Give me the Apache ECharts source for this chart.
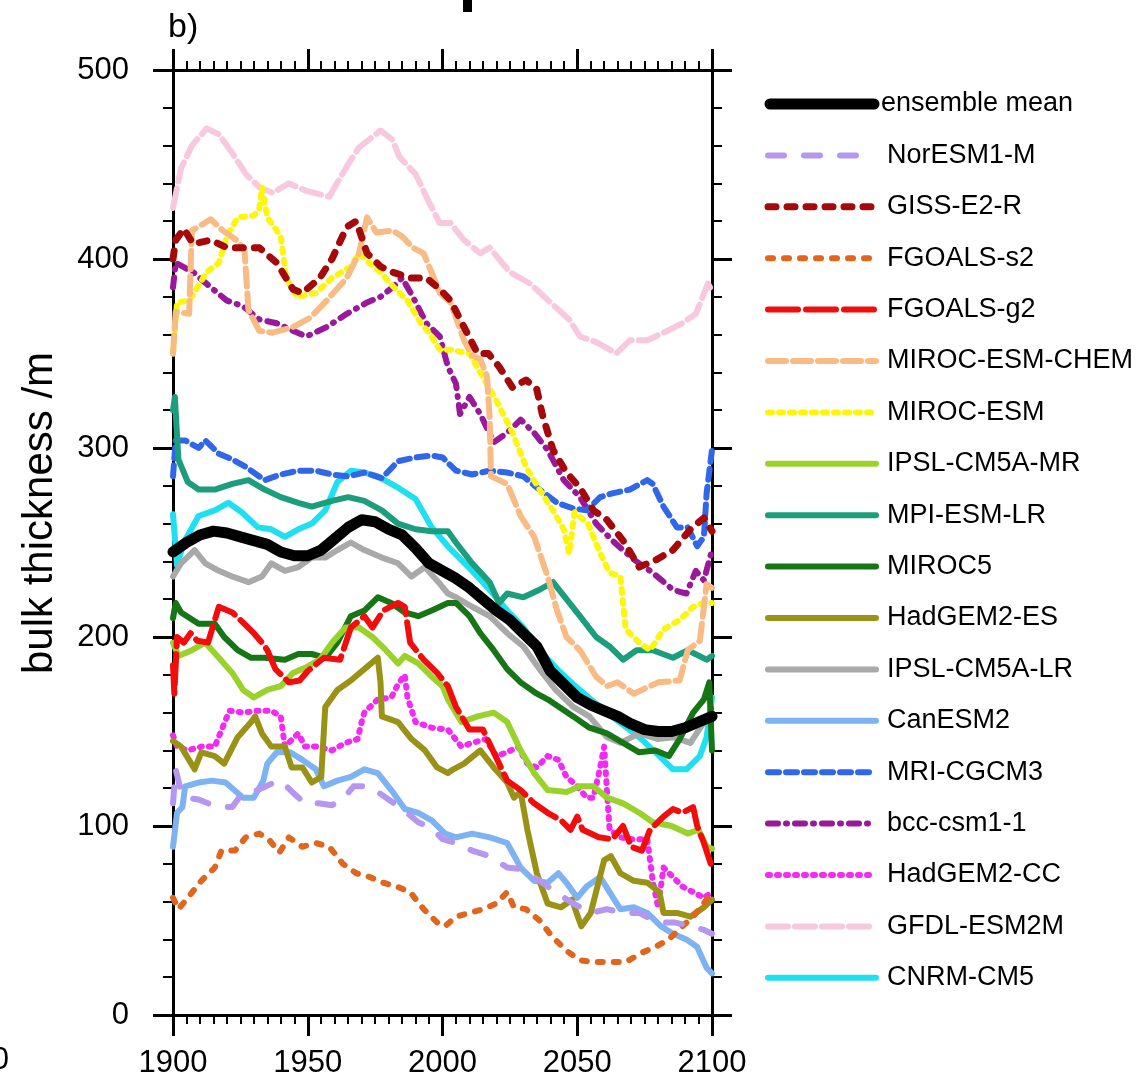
<!DOCTYPE html>
<html>
<head>
<meta charset="utf-8">
<script src="https://cdn.jsdelivr.net/npm/echarts@6/dist/echarts.min.js"></script>
<style>
  html, body { margin: 0; padding: 0; background: #ffffff; }
  #chart { width: 1142px; height: 1087px; }
</style>
</head>
<body>
<div id="chart"></div>
<script>
// Bulk thickness (m) per model, [year, value] pairs, 1900-2100
const ensembleMean = [[1900,245],[1905,250],[1910,254],[1915,256],[1920,255],[1925,253],[1930,251],[1935,249],[1940,245],[1945,243],[1950,243],[1955,246],[1960,252],[1965,258],[1970,262],[1975,261],[1980,257],[1985,254],[1990,247],[1995,239],[2000,235],[2005,231],[2010,226],[2015,220],[2020,214],[2025,209],[2030,202],[2035,195],[2040,182],[2045,175],[2050,168],[2055,164],[2060,161],[2065,158],[2070,154],[2075,151],[2080,150],[2085,150],[2090,152],[2095,155],[2100,158]];

const norESM1M = [[1900,112],[1901,130],[1903,118],[1905,115],[1909.5,114],[1913,112],[1918,110],[1922,110],[1925.5,117],[1931.5,119],[1937.5,123],[1940,124],[1945,117],[1949,112],[1954,112],[1959,111],[1963.5,115],[1967,121],[1972,121],[1977,117],[1982,112],[1986,108],[1991,102],[1996,99],[2000,93],[2005,91],[2011,87],[2017.5,84],[2024,78],[2030,77],[2036,71],[2042,65],[2048.5,59],[2055,54],[2061,56],[2067,54],[2073,54],[2080,49],[2086,49],[2092,47],[2097,45],[2100,43]];

const gissE2R = [[1900,400],[1901,410],[1904,416],[1907.5,408],[1914,410],[1920,406],[1926,406],[1932,406],[1938.5,398],[1944.5,384],[1948,382],[1954.5,390],[1959,400],[1964.5,417],[1968,420],[1972,403],[1977,396],[1981.5,393],[1988,390],[1994,390],[1999,384],[2003,378],[2008,364],[2013,350],[2017,350],[2021,343],[2026,332],[2031,336],[2035,331],[2037,318],[2041,299],[2046,287],[2051,279],[2056,267],[2061,262],[2067,251],[2073,237],[2079.5,241],[2085.5,246],[2092,257],[2097,263],[2100,256]];

const fgoalsS2 = [[1900,62],[1902,56],[1905.5,62],[1910.5,71],[1915.5,78],[1918,87],[1923,87],[1927,94],[1932,96],[1935.5,93],[1939.5,86],[1943,94],[1948,89],[1953,91],[1958,89],[1963,80],[1968,75],[1973,73],[1978,70],[1983,68],[1988,65],[1993,56],[1998,49],[2001,47],[2005,52],[2010,54],[2015,56],[2020,59],[2024,65],[2026.5,57],[2031,56],[2036,50],[2041,41],[2046,34],[2051,29],[2056,28],[2062,28],[2068,28],[2074,33],[2079,36],[2084,40],[2089,47],[2093,52],[2098,61],[2100,66]];

const fgoalsG2 = [[1900,185],[1900.5,170],[1901.5,200],[1904,197],[1906.5,202],[1909,198],[1913,197],[1917,216],[1922,213],[1926.5,207],[1930,202],[1933,197],[1935,193],[1938,183],[1943,176],[1947,177],[1950,182],[1956,189],[1962,188],[1966,205],[1971,211],[1974,205],[1978,214],[1983.5,218],[1986,216],[1988,197],[1993,188],[1998,181],[2002,174],[2005,163],[2010,151],[2015,151],[2019,139],[2024,124],[2029,119],[2034,112],[2039,107],[2044,103],[2047.5,98],[2050,105],[2052,98],[2058,94],[2063,93],[2067,100],[2070,89],[2074,87],[2077,98],[2082,105],[2085.5,109],[2089,107],[2093,110],[2094.5,100],[2097,91],[2100,78]];

const mirocEsmChem = [[1900,350],[1901,372],[1906,371],[1907,415],[1914,421],[1918.5,415],[1923.5,410],[1926.5,405],[1928,373],[1932,362],[1937,361],[1944.5,364],[1951,369],[1957,378],[1964.5,390],[1969,403],[1972,422],[1975.5,414],[1981.5,415],[1985,412],[1989,406],[1993,403],[1996.5,391],[1999,382],[2003,377],[2008,357],[2011,349],[2014,347],[2016.5,338],[2017.5,316],[2018,285],[2021,283],[2024,281],[2029,264],[2034,253],[2039,232],[2042.5,214],[2046,200],[2051,193],[2057,179],[2061,174],[2065,176],[2071,170],[2080,176],[2088,177],[2091,193],[2095.5,198],[2098,228],[2100,226]];

const mirocEsm = [[1900,350],[1901.5,377],[1906,378],[1912.5,393],[1917,398],[1920,412],[1924,422],[1930,423],[1932,426],[1933,438],[1935,422],[1940,412],[1942,390],[1946,380],[1953,382],[1959,390],[1966,396],[1969,403],[1972,399],[1977,393],[1982,385],[1987,378],[1992,366],[1995,361],[1999,352],[2003,352],[2010,350],[2014,340],[2020,325],[2026,308],[2031,290],[2036,278],[2041,267],[2045,257],[2047,244],[2049,266],[2054,260],[2058,246],[2062,234],[2066,232],[2068,204],[2073,197],[2077,193],[2082,204],[2088,209],[2093,216],[2097,218],[2100,218]];

const ipslCm5aMr = [[1900,197],[1902,190],[1907,193],[1912,197],[1917,189],[1922,181],[1926,172],[1930,168],[1935,172],[1940,174],[1944.5,181],[1949.5,184],[1954.5,188],[1959,197],[1964,205],[1969,205],[1974,200],[1979,193],[1983.5,186],[1986,190],[1991,186],[1996,179],[2000,174],[2002,167],[2007,155],[2013,158],[2019,160],[2024,155],[2029,140],[2034,128],[2039,119],[2046,118],[2051,121],[2056,121],[2061,115],[2067,112],[2073,107],[2078,102],[2085,100],[2091,96],[2095,98],[2098,89],[2100,88]];

const mpiEsmLr = [[1900,320],[1900.7,327],[1902,294],[1905.5,282],[1909.5,278],[1915.5,278],[1922,281],[1928,283],[1934,278],[1940,274],[1946.5,271],[1951.5,269],[1959,272],[1965,274],[1971,272],[1977.5,267],[1983.5,260],[1990,257],[1996,256],[2002,256],[2005,250],[2011,239],[2017.5,229],[2021,218],[2024,223],[2030,221],[2036,225],[2041,229],[2046,220],[2051,211],[2057,200],[2062,195],[2067,188],[2072,193],[2078,193],[2085.5,189],[2091,193],[2098,188],[2100,190]];

const miroc5 = [[1900,210],[1901,218],[1903,213],[1909.5,207],[1915.5,207],[1919,200],[1924,193],[1929,189],[1934,189],[1941.5,188],[1946.5,191],[1951.5,191],[1956.5,189],[1961,197],[1966,211],[1971,214],[1976,221],[1981,218],[1986,213],[1991,211],[1996,214],[2002,218],[2005,218],[2010,211],[2014,202],[2019,193],[2024,183],[2029,176],[2035,170],[2039,167],[2048.5,158],[2054.5,152],[2061,149],[2067,144],[2073,139],[2079,140],[2084,137],[2088,146],[2093,160],[2097,167],[2099,176],[2100,140]];

const hadGem2Es = [[1900,145],[1903,142],[1908,130],[1910.5,139],[1915.5,137],[1919,133],[1924,147],[1929,155],[1930.5,158],[1933,149],[1936.5,142],[1941.5,142],[1944,131],[1948,131],[1951.5,123],[1955,126],[1956.5,163],[1961,172],[1966,177],[1971,183],[1976,189],[1977,176],[1977.5,158],[1983.5,155],[1988.5,146],[1993.5,140],[1998,131],[2002,128],[2004,130],[2008,133],[2014,140],[2019,131],[2024,123],[2026.5,115],[2029,118],[2031.5,98],[2035,75],[2039,59],[2044,57],[2048,61],[2051.5,47],[2055,54],[2060,82],[2062.5,84],[2066,75],[2071,71],[2076,70],[2080.5,65],[2082,54],[2087,54],[2092,52],[2097,57],[2100,61]];

const ipslCm5aLr = [[1900,232],[1903,239],[1908,246],[1912,239],[1917,235],[1922,232],[1928,229],[1933,232],[1936.5,239],[1941.5,235],[1946.5,237],[1951.5,242],[1956.5,242],[1961,246],[1966,250],[1971,246],[1977.5,242],[1983.5,239],[1988.5,232],[1993.5,237],[1998.5,229],[2002,223],[2005,221],[2011,216],[2017.5,211],[2024,202],[2030,195],[2036,183],[2042,172],[2048.5,163],[2054.5,158],[2061,147],[2066,144],[2073,149],[2080,146],[2085.5,147],[2092,144],[2097,155],[2100,160]];

const canEsm2 = [[1900,89],[1901.5,107],[1903.5,110],[1904.5,121],[1909.5,123],[1914.5,124],[1919.5,123],[1926,115],[1930,115],[1933.5,124],[1935,133],[1938.5,139],[1943.5,139],[1948,135],[1953,130],[1956,121],[1961,124],[1966,126],[1971,130],[1976,128],[1981,119],[1986,109],[1991,107],[1996,103],[2001,96],[2005,94],[2011,96],[2017.5,94],[2024,91],[2029,78],[2034,71],[2039,70],[2043,75],[2046,70],[2050,62],[2053.5,68],[2058.5,73],[2062,65],[2066,56],[2071,57],[2076,54],[2081,47],[2085.5,43],[2090.5,40],[2094.5,36],[2098,25],[2100,22]];

const mriCgcm3 = [[1900,285],[1901,304],[1904.5,304],[1909.5,300],[1912,304],[1917,297],[1922,294],[1927,290],[1934,283],[1940,286],[1946.5,288],[1953,288],[1959,286],[1965,285],[1971,287],[1977.5,284],[1983.5,293],[1990,295],[1996,296],[2000,295],[2005,288],[2011,286],[2017.5,288],[2024,287],[2030,285],[2036,278],[2042.5,271],[2048.5,268],[2053.5,267],[2058.5,274],[2063,276],[2069.5,278],[2076,283],[2078,281],[2082,269],[2087,258],[2091,258],[2094.5,248],[2097,253],[2098,276],[2100,299]];

const bccCsm11 = [[1900,385],[1901,398],[1907.5,393],[1914,385],[1920,378],[1926,375],[1932,368],[1938.5,366],[1944.5,362],[1949.5,359],[1957,364],[1964.5,371],[1972,377],[1977,380],[1981.5,385],[1985,390],[1989,380],[1994,366],[1999,359],[2002,343],[2005,334],[2006.5,318],[2010,327],[2014,318],[2019,303],[2024,308],[2029,315],[2034,308],[2039,299],[2045,283],[2051,274],[2057,260],[2063,251],[2071,241],[2078,234],[2085.5,225],[2090.5,223],[2094,235],[2097,230],[2100,246]];

const hadGem2Cc = [[1900,148],[1901.5,142],[1905.5,140],[1910.5,142],[1915.5,142],[1919.5,156],[1921,161],[1926,160],[1931,161],[1936.5,161],[1940,158],[1941.5,142],[1946.5,149],[1949,142],[1954,142],[1959,140],[1964,144],[1968.5,146],[1970,155],[1971,160],[1976,167],[1981,168],[1983.5,175],[1986,180],[1987,168],[1990,155],[1996,152],[2002,151],[2007,142],[2011,144],[2016,146],[2020,137],[2024,139],[2028,142],[2031.5,133],[2035,131],[2039,137],[2043,135],[2046,126],[2050,121],[2053.5,115],[2056,115],[2058.5,131],[2060,142],[2061,119],[2062,98],[2066,94],[2070,93],[2076,93],[2078,71],[2080,57],[2082,78],[2085.5,73],[2089,68],[2093,65],[2097,62],[2100,65]];

const gfdlEsm2m = [[1900,427],[1903,448],[1907,460],[1912.5,469],[1917,466],[1922,456],[1927,445],[1932,438],[1937,435],[1943,440],[1949.5,436],[1958,433],[1964.5,449],[1969,459],[1977,468],[1981.5,463],[1984,454],[1990,445],[1995,430],[1999,419],[2003,419],[2008,410],[2014,403],[2017.5,406],[2025,393],[2032.5,387],[2040,377],[2047,368],[2051,359],[2057,356],[2064.5,350],[2069.5,357],[2076,357],[2082,361],[2089,366],[2094,371],[2098.5,387],[2100,383]];

const cnrmCm5 = [[1900,265],[1901.5,238],[1904,250],[1909.5,264],[1915.5,267],[1920.5,271],[1925.5,266],[1931.5,258],[1936.5,257],[1941.5,253],[1946.5,257],[1951.5,260],[1956.5,267],[1961,282],[1966,288],[1971,287],[1976,285],[1983.5,279],[1990,273],[1996,258],[2002,248],[2011,235],[2017.5,225],[2024,214],[2030,205],[2036,193],[2042.5,183],[2048.5,175],[2055,167],[2061,160],[2073,147],[2080.5,137],[2085.5,130],[2090.5,130],[2095.5,137],[2098,147],[2100,168]];

// Axis ticks
const xTicks = [1900, 1950, 2000, 2050, 2100];
const yTicks = [0, 100, 200, 300, 400, 500];

// Line styles in legend order (first entry drawn on top)
const models = [
  { name: 'ensemble mean',  data: ensembleMean, color: '#000000', width: 11, dash: 'solid' },
  { name: 'NorESM1-M',      data: norESM1M,     color: '#b596f0', width: 6,  dash: [16, 20] },
  { name: 'GISS-E2-R',      data: gissE2R,      color: '#a50a0a', width: 7,  dash: [8, 11] },
  { name: 'FGOALS-s2',      data: fgoalsS2,     color: '#e0661e', width: 6,  dash: [5, 11] },
  { name: 'FGOALS-g2',      data: fgoalsG2,     color: '#f20c0c', width: 6,  dash: [30, 8] },
  { name: 'MIROC-ESM-CHEM', data: mirocEsmChem, color: '#f8bb84', width: 6,  dash: [18, 7] },
  { name: 'MIROC-ESM',      data: mirocEsm,     color: '#fcf50c', width: 6,  dash: [4, 7] },
  { name: 'IPSL-CM5A-MR',   data: ipslCm5aMr,   color: '#99d22a', width: 6,  dash: 'solid' },
  { name: 'MPI-ESM-LR',     data: mpiEsmLr,     color: '#1c9e7c', width: 6,  dash: 'solid' },
  { name: 'MIROC5',         data: miroc5,       color: '#167616', width: 6,  dash: 'solid' },
  { name: 'HadGEM2-ES',     data: hadGem2Es,    color: '#999216', width: 6,  dash: 'solid' },
  { name: 'IPSL-CM5A-LR',   data: ipslCm5aLr,   color: '#a9a9a9', width: 6,  dash: 'solid' },
  { name: 'CanESM2',        data: canEsm2,      color: '#7cb3f0', width: 6,  dash: 'solid' },
  { name: 'MRI-CGCM3',      data: mriCgcm3,     color: '#2f66ea', width: 6,  dash: [11, 7] },
  { name: 'bcc-csm1-1',     data: bccCsm11,     color: '#9a189a', width: 6,  dash: [10, 8, 1, 8] },
  { name: 'HadGEM2-CC',     data: hadGem2Cc,    color: '#f22af2', width: 6,  dash: [2, 7] },
  { name: 'GFDL-ESM2M',     data: gfdlEsm2m,    color: '#f8c8de', width: 6,  dash: [20, 7] },
  { name: 'CNRM-CM5',       data: cnrmCm5,      color: '#1fdff0', width: 6,  dash: 'solid' }
];

const FONT = '"Liberation Sans", Arial, Helvetica, sans-serif';

const plot = { left: 173, top: 70, right: 712, bottom: 1015 };

function xAxisCfg(pos) {
  return {
    type: 'value', position: pos, min: xTicks[0], max: xTicks[xTicks.length - 1], interval: 50,
    axisLine: { show: true, onZero: false, lineStyle: { color: '#000', width: 3 } },
    axisTick: { show: true, inside: false, length: 21, lineStyle: { color: '#000', width: 3 } },
    minorTick: { show: true, splitNumber: 10, length: 9, lineStyle: { color: '#000', width: 2 } },
    axisLabel: { show: pos === 'bottom', margin: 33, fontSize: 31, color: '#000', fontFamily: FONT,
                 showMinLabel: true, showMaxLabel: true, formatter: v => String(v) },
    splitLine: { show: false }, minorSplitLine: { show: false }
  };
}
function yAxisCfg(pos) {
  return {
    type: 'value', position: pos, min: yTicks[0], max: yTicks[yTicks.length - 1], interval: 100,
    axisLine: { show: true, onZero: false, lineStyle: { color: '#000', width: 3 } },
    axisTick: { show: true, inside: false, length: 20, lineStyle: { color: '#000', width: 3 } },
    minorTick: { show: true, splitNumber: 5, length: 10, lineStyle: { color: '#000', width: 2 } },
    axisLabel: { show: pos === 'left', margin: 44, fontSize: 31, color: '#000', fontFamily: FONT,
                 showMinLabel: true, showMaxLabel: true, formatter: v => String(v) },
    splitLine: { show: false }, minorSplitLine: { show: false }
  };
}

// Series drawn in reverse legend order so the ensemble mean ends up on top
const series = models.slice().reverse().map(m => ({
  type: 'line', name: m.name, data: m.data,
  xAxisIndex: 0, yAxisIndex: 0,
  symbol: 'none', showSymbol: false, smooth: false, clip: true, silent: true,
  lineStyle: { color: m.color, width: m.width, type: m.dash, cap: 'round', join: 'round' }
}));

// Legend drawn as line samples with labels
const legendTop = 104, legendStep = 51.4;
const legendItems = [];
models.forEach((m, i) => {
  const y = legendTop + i * legendStep;
  const isMean = i === 0;
  legendItems.push({
    type: 'line', silent: true,
    shape: { x1: isMean ? 770 : 768, y1: y, x2: isMean ? 874 : 876, y2: y },
    style: { stroke: m.color, lineWidth: m.width, lineCap: 'round',
             lineDash: Array.isArray(m.dash) ? m.dash : null }
  });
  legendItems.push({
    type: 'text', silent: true, x: isMean ? 881 : 887, y: y,
    style: { text: m.name, fill: '#000', font: '27px ' + FONT, textAlign: 'left', textVerticalAlign: 'middle' }
  });
});

const chart = echarts.init(document.getElementById('chart'), null, { renderer: 'canvas' });
chart.setOption({
  backgroundColor: '#ffffff',
  animation: false,
  grid: { left: plot.left, top: plot.top, width: plot.right - plot.left, height: plot.bottom - plot.top, containLabel: false },
  xAxis: [xAxisCfg('bottom'), xAxisCfg('top')],
  yAxis: [yAxisCfg('left'), yAxisCfg('right')],
  series: series,
  graphic: [
    { type: 'text', silent: true, x: 168, y: 28,
      style: { text: 'b)', fill: '#000', font: '34px ' + FONT, textVerticalAlign: 'middle' } },
    { type: 'text', silent: true, x: 40, y: 513, rotation: Math.PI / 2,
      style: { text: 'bulk thickness /m', fill: '#000', font: '42px ' + FONT,
               textAlign: 'center', textVerticalAlign: 'middle' } },
    { type: 'rect', silent: true, shape: { x: 463, y: 0, width: 9, height: 12 }, style: { fill: '#000' } },
    { type: 'text', silent: true, x: 9, y: 1060,
      style: { text: '0', fill: '#000', font: '31px ' + FONT, textAlign: 'right', textVerticalAlign: 'middle' } }
  ].concat(legendItems)
});
</script>
</body>
</html>
